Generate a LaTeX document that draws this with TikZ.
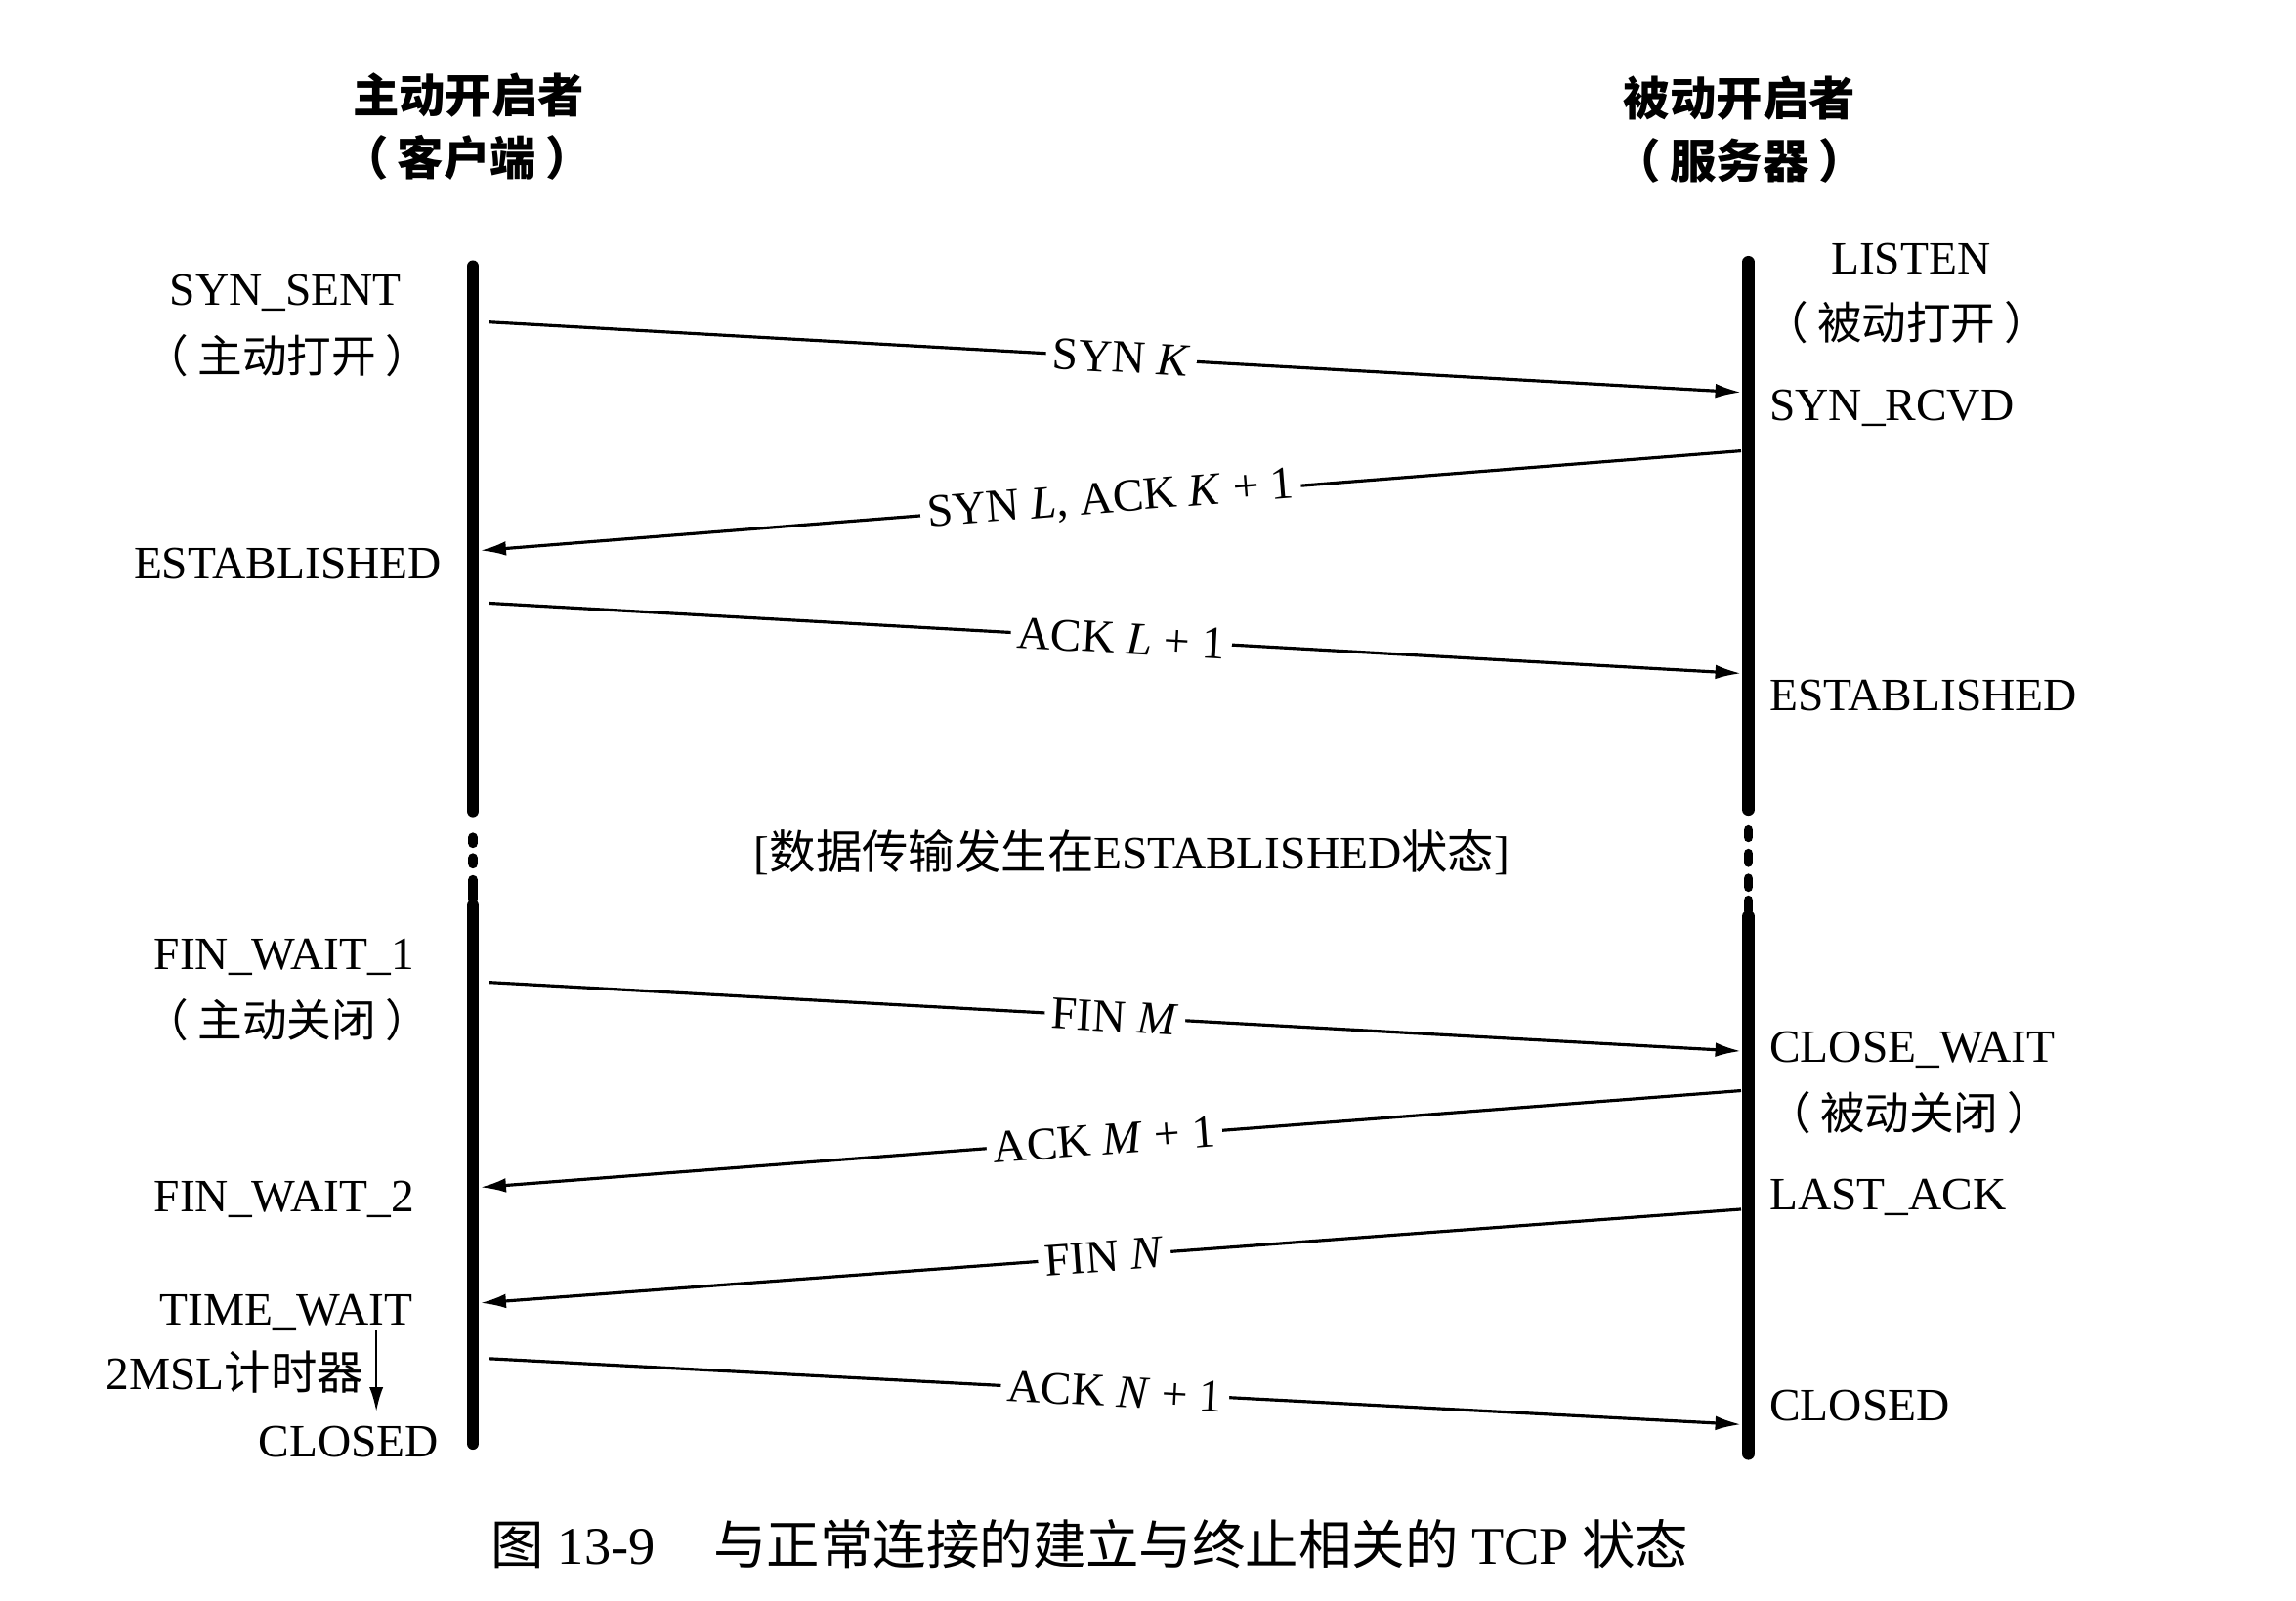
\documentclass[tikz,border=0pt]{standalone}
\usepackage{fontspec}
\setmainfont{Liberation Serif}
\newfontfamily\cjk{Noto Sans CJK SC}
\usetikzlibrary{arrows.meta}
\newcommand{\pgap}{\hspace{0.2em}}
\begin{document}
\begin{tikzpicture}[x=0.015cm,y=-0.015cm,
  every node/.style={inner sep=0pt, font=\fontsize{13.5}{15}\selectfont},
  lifeline/.style={line width=3.6pt, line cap=round},
  dotseg/.style={line width=2.8pt, line cap=round},
  msg/.style={line width=0.9pt, -{Latex[length=7.5pt,width=4.2pt]}},
  msglabel/.style={fill=white, sloped, inner xsep=2pt, inner ysep=2pt},
  ttl/.style={font=\fontsize{13.5}{15}\selectfont\cjk\bfseries},
  sub/.style={font=\fontsize{13}{15}\selectfont\cjk},
  capt/.style={font=\fontsize{15.5}{17}\selectfont}
]
\useasboundingbox[fill=white] (0,0) rectangle (1568,1093);

% titles
\node[ttl] (t1) at (320,65) {主动开启者};
\node[ttl] (t1b) at (319,108) {（\pgap 客户端\pgap ）};
\node[ttl] (t2) at (1188,67) {被动开启者};
\node[ttl] (t2b) at (1188,110) {（\pgap 服务器\pgap ）};

% lifelines
\coordinate (Ltop) at (323,182);
\coordinate (Lmid1) at (323,554);
\coordinate (Lmid2) at (323,618);
\coordinate (Lbot) at (323,986);
\coordinate (Rtop) at (1194,179);
\coordinate (Rmid1) at (1194,553);
\coordinate (Rmid2) at (1194,626);
\coordinate (Rbot) at (1194,993);
\draw[lifeline] (Ltop) -- (Lmid1);
\draw[lifeline] (Lmid2) -- (Lbot);
\draw[lifeline] (Rtop) -- (Rmid1);
\draw[lifeline] (Rmid2) -- (Rbot);
% dotted gaps
\coordinate (Ld1a) at (323,572); \coordinate (Ld1b) at (323,576);
\coordinate (Ld2a) at (323,586); \coordinate (Ld2b) at (323,590);
\coordinate (Ld3a) at (323,601); \coordinate (Ld3b) at (323,614);
\draw[dotseg] (Ld1a) -- (Ld1b);
\draw[dotseg] (Ld2a) -- (Ld2b);
\draw[dotseg] (Ld3a) -- (Ld3b);
\coordinate (Rd1a) at (1194,567); \coordinate (Rd1b) at (1194,572);
\coordinate (Rd2a) at (1194,583); \coordinate (Rd2b) at (1194,589);
\coordinate (Rd3a) at (1194,600); \coordinate (Rd3b) at (1194,606);
\coordinate (Rd4a) at (1194,615); \coordinate (Rd4b) at (1194,622);
\draw[dotseg] (Rd1a) -- (Rd1b);
\draw[dotseg] (Rd2a) -- (Rd2b);
\draw[dotseg] (Rd3a) -- (Rd3b);
\draw[dotseg] (Rd4a) -- (Rd4b);

% left states
\node (synsent) at (195,200) {SYN\_SENT};
\node[sub] (actopen) at (196,243) {（\pgap 主动打开\pgap ）};
\node[anchor=east] (estL) at (302,385) {ESTABLISHED};
\node (fw1) at (194,654) {FIN\_WAIT\_1};
\node[sub] (actclose) at (196,697) {（\pgap 主动关闭\pgap ）};
\node (fw2) at (194,819) {FIN\_WAIT\_2};
\node[anchor=east] (tw) at (282,897) {TIME\_WAIT};
\node[anchor=west] (msl) at (72,937) {2MSL{\cjk 计时器}};
\node[anchor=east] (closedL) at (300,985) {CLOSED};
\coordinate (mslA) at (257,909);
\coordinate (mslB) at (257,964);
\draw[line width=0.6pt, -{Latex[length=7pt,width=4pt]}] (mslA) -- (mslB);

% right states
\node (listen) at (1305,177) {LISTEN};
\node[sub] (pasopen) at (1302,220) {（\pgap 被动打开\pgap ）};
\node[anchor=west] (synrcvd) at (1208,279) {SYN\_RCVD};
\node[anchor=west] (estR) at (1208,475) {ESTABLISHED};
\node[anchor=west] (cw) at (1208,717) {CLOSE\_WAIT};
\node[sub] (pasclose) at (1304,760) {（\pgap 被动关闭\pgap ）};
\node[anchor=west] (lastack) at (1208,818) {LAST\_ACK};
\node[anchor=west] (closedR) at (1208,960) {CLOSED};

% middle
\node (data) at (773,582) {[{\cjk 数据传输发生在}ESTABLISHED{\cjk 状态}]};

% messages
\coordinate (a1s) at (334,220); \coordinate (a1e) at (1189,268);
\coordinate (a2s) at (1189,308); \coordinate (a2e) at (328,376);
\coordinate (a3s) at (334,412); \coordinate (a3e) at (1189,460);
\coordinate (a4s) at (334,671); \coordinate (a4e) at (1189,718);
\coordinate (a5s) at (1189,745); \coordinate (a5e) at (328,811);
\coordinate (a6s) at (1189,826); \coordinate (a6e) at (328,890);
\coordinate (a7s) at (334,928); \coordinate (a7e) at (1189,973);

\draw[msg] (a1s) -- node[msglabel, pos=0.505] (l1) {SYN \textit{K}} (a1e);
\draw[msg] (a2s) -- node[msglabel, pos=0.5] (l2) {SYN \textit{L}, ACK \textit{K} + 1} (a2e);
\draw[msg] (a3s) -- node[msglabel, pos=0.505] (l3) {ACK \textit{L} + 1} (a3e);
\draw[msg] (a4s) -- node[msglabel, pos=0.5] (l4) {FIN \textit{M}} (a4e);
\draw[msg] (a5s) -- node[msglabel, pos=0.505] (l5) {ACK \textit{M} + 1} (a5e);
\draw[msg] (a6s) -- node[msglabel, pos=0.505] (l6) {FIN \textit{N}} (a6e);
\draw[msg] (a7s) -- node[msglabel, pos=0.5] (l7) {ACK \textit{N} + 1} (a7e);

% caption
\node[capt, anchor=west] (cap) at (335,1055) {{\cjk 图} 13-9\hspace{1.1em}{\cjk 与正常连接的建立与终止相关的} TCP {\cjk 状态}};
\end{tikzpicture}
\end{document}
